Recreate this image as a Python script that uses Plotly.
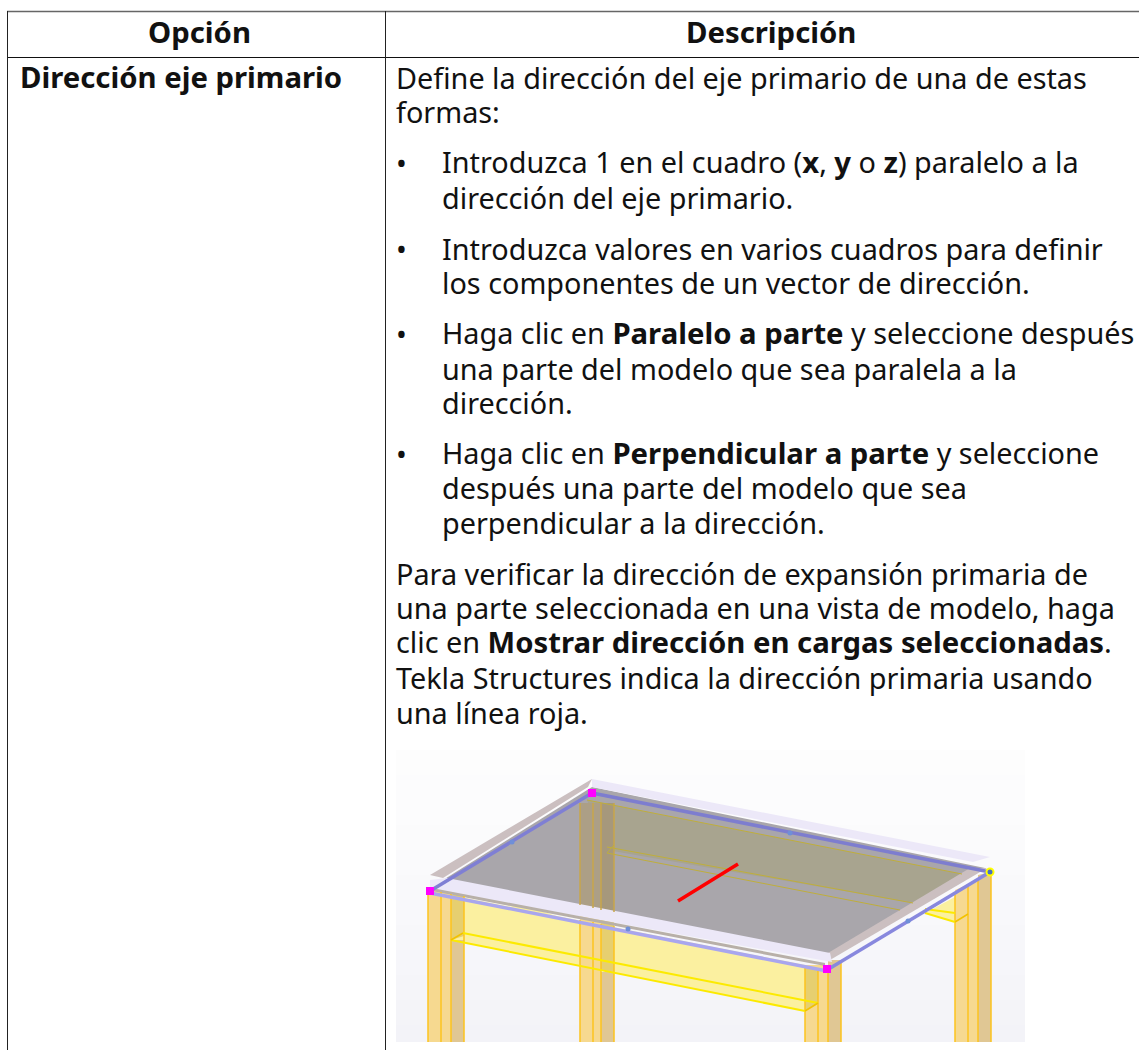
import plotly.graph_objects as go

BOLD = '<b style="font-size:29.3px">'

# ---------- table text ----------
header_labels = ["Opción", "Descripción"]
option_label = "Dirección eje primario"
plain_lines = [
    "Define la dirección del eje primario de una de estas",
    "formas:",
    "Para verificar la dirección de expansión primaria de",
    "una parte seleccionada en una vista de modelo, haga",
    f"clic en {BOLD}Mostrar dirección en cargas seleccionadas</b>.",
    "Tekla Structures indica la dirección primaria usando",
    "una línea roja.",
]
plain_baselines = [88, 122, 584, 618, 653, 688, 723]
bullet_lines = [
    f"Introduzca 1 en el cuadro ({BOLD}x</b>, {BOLD}y</b> o {BOLD}z</b>) paralelo a la",
    "dirección del eje primario.",
    "Introduzca valores en varios cuadros para definir",
    "los componentes de un vector de dirección.",
    f"Haga clic en {BOLD}Paralelo a parte</b> y seleccione después",
    "una parte del modelo que sea paralela a la",
    "dirección.",
    f"Haga clic en {BOLD}Perpendicular a parte</b> y seleccione",
    "después una parte del modelo que sea",
    "perpendicular a la dirección.",
]
bullet_baselines = [173, 208, 259, 293, 344, 379, 413, 464, 498, 533]
bullet_marks = [173, 259, 344, 464]

# ---------- illustration ----------
backdrop_rows = [750, 775, 800, 825, 850, 875, 900, 925, 950, 975, 1000, 1025, 1042]
backdrop_cols = ["#fdfdfd", "#fcfcfd", "#fcfcfd", "#fbfbfc", "#fafafc", "#f9f9fb", "#f8f8fb",
                 "#f7f7fa", "#f6f6fa", "#f5f5f9", "#f4f4f8", "#f3f3f8"]

polygons = [
    # right-hand rear beam piece
    ("#fbf0a0", [925, 955, 968, 968, 955], [913, 897, 895, 913, 922]),
    # front beam
    ("#fbf0a0", [451, 463, 818, 805], [885, 885, 1003, 1011]),
    ("#fbf0a0", [451, 805, 805, 451], [895, 965, 1011, 940]),
    # columns
    ("#f6d990", [428, 451, 451, 428], [891, 891, 1042, 1042]),
    ("#e0c794", [451, 464, 464, 451], [940, 940, 1042, 1042]),
    ("#e6cf70", [451, 464, 464, 451], [895, 895, 936, 940]),
    ("#f6d990", [580, 601, 601, 580], [915, 915, 1042, 1042]),
    ("#e0c794", [601, 614, 614, 601], [972, 972, 1042, 1042]),
    ("#e6cf70", [601, 614, 614, 601], [915, 915, 973, 970]),
    ("#f6d990", [805, 828, 828, 805], [965, 965, 1042, 1042]),
    ("#e0c794", [828, 841, 841, 828], [960, 960, 1042, 1042]),
    ("#e6cf70", [805, 818, 818, 805], [968, 968, 1003, 1011]),
    ("#f6d990", [955, 978, 978, 955], [890, 880, 1042, 1042]),
    ("#e0c794", [978, 991, 991, 978], [875, 872, 1042, 1042]),
    # slab
    ("#a9a6ab", [592, 985, 830, 435], [787, 868, 957, 885]),
    ("#a8a48f", [587, 962, 913, 607], [800, 874, 903, 850]),
    ("#ac9f86", [580, 601, 601, 580], [803, 803, 912, 905]),
    ("#a6987c", [601, 614, 614, 601], [803, 803, 914, 912]),
    # slab edge bands
    ("#cbbfc0", [430, 592, 588, 443], [875, 779, 787, 878]),
    ("#cbbfc0", [828, 970, 987, 830], [953, 868, 868, 960]),
    ("#ece8f8", [592, 990, 973, 592], [779, 857, 862, 787]),
    ("#ece8f8", [430, 447, 830, 832, 430], [880, 878, 953, 962, 889]),
    ("#b8b0a8", [432, 825, 825, 432], [888, 963, 966, 891]),
]
column_lines_x = [428, 441, 451, 464, 580, 593, 601, 614, 805, 818, 828, 841, 955, 968, 978, 991]
column_lines_top = [891, 892, 894, 896, 920, 922, 924, 926, 967, 969, 968, 962, 895, 885, 878, 873]
column_back_lines_x = [580, 593, 601, 614]
column_back_lines_top = [803, 803, 803, 803]
column_back_lines_bottom = [905, 908, 910, 912]

edge_lines = [
    ("#fcea00", 2, [451, 805], [940, 1011]),
    ("#fcea00", 2, [463, 818], [933, 1003]),
    ("#f2c200", 1.5, [451, 463], [940, 933]),
    ("#f2c200", 1.5, [805, 818], [1011, 1003]),
    ("#fcea00", 2, [925, 955], [913, 922]),
    ("#fcea00", 2, [925, 955], [909, 913]),
    ("#f2c200", 1.5, [955, 968], [922, 914]),
    ("#bfae3c", 1, [587, 962], [800, 874]),
    ("#bfae3c", 1, [607, 913], [847, 903]),
    ("#bfae3c", 1, [607, 900], [853, 910]),
    ("#bfae3c", 1, [607, 614], [853, 845]),
    ("#7f7fd4", 3.5, [592, 430], [793, 891]),
    ("#7d7dcf", 3.5, [592, 990], [793, 872]),
    ("#a9a6ee", 3.5, [430, 827], [893, 971]),
    ("#8888de", 3.5, [827, 990], [970, 872]),
    ("#ff0000", 3.5, [678, 738], [901, 864]),
]
corner_x = [592, 430, 827]
corner_y = [793, 891, 969]
handle_x = [990]
handle_y = [872]
midpoint_x = [512, 628, 790, 908]
midpoint_y = [842, 929, 833, 921]

fig = go.Figure()

for i, col in enumerate(backdrop_cols):
    fig.add_shape(type="rect", x0=396, x1=1025, y0=backdrop_rows[i], y1=backdrop_rows[i + 1],
                  fillcolor=col, line_width=0, layer="below")

for col, xs, ys in polygons:
    fig.add_trace(go.Scatter(x=xs, y=ys, fill="toself", fillcolor=col, mode="none", hoverinfo="skip"))

for x, top in zip(column_lines_x, column_lines_top):
    fig.add_trace(go.Scatter(x=[x, x], y=[top, 1042], mode="lines", hoverinfo="skip",
                             line=dict(color="#fcc31e", width=1.5)))
for x, top, bottom in zip(column_back_lines_x, column_back_lines_top, column_back_lines_bottom):
    fig.add_trace(go.Scatter(x=[x, x], y=[top, bottom], mode="lines", hoverinfo="skip",
                             line=dict(color="#c9a64a", width=1.5)))

for col, w, xs, ys in edge_lines:
    fig.add_trace(go.Scatter(x=xs, y=ys, mode="lines", hoverinfo="skip", line=dict(color=col, width=w)))

fig.add_trace(go.Scatter(x=midpoint_x, y=midpoint_y, mode="markers", hoverinfo="skip",
                         marker=dict(symbol="circle", size=5, color="#6f8fd8")))
fig.add_trace(go.Scatter(x=corner_x, y=corner_y, mode="markers", hoverinfo="skip",
                         marker=dict(symbol="square", size=8, color="#ff00ff")))
fig.add_trace(go.Scatter(x=handle_x, y=handle_y, mode="markers", hoverinfo="skip",
                         marker=dict(symbol="circle", size=7, color="#4a6fc0",
                                     line=dict(color="#ffff00", width=2))))

# ---------- table rules ----------
fig.add_shape(type="line", x0=7, x1=1139, y0=11.5, y1=11.5, line=dict(color="#666666", width=1.5))
fig.add_shape(type="line", x0=7, x1=1139, y0=57.5, y1=57.5, line=dict(color="#111111", width=1))
fig.add_shape(type="line", x0=7.5, x1=7.5, y0=11, y1=1050, line=dict(color="#222222", width=1))
fig.add_shape(type="line", x0=385.5, x1=385.5, y0=11, y1=1050, line=dict(color="#222222", width=1))

FONT = "Noto Sans"
SIZE = 28.8
INK = "#111111"
OFFSET = 11


def put(x, baseline, text, anchor="left", bold=False):
    fig.add_annotation(x=x, y=baseline - OFFSET, text=f"{BOLD}{text}</b>" if bold else text,
                       showarrow=False, xanchor=anchor, yanchor="middle", align=anchor,
                       borderpad=0, font=dict(family=FONT, size=SIZE, color=INK))


put(199, 43, header_labels[0], "center", True)
put(771, 43, header_labels[1], "center", True)
put(19, 88, option_label, bold=True)
for t, b in zip(plain_lines, plain_baselines):
    put(395, b, t)
for t, b in zip(bullet_lines, bullet_baselines):
    put(441, b, t)
for b in bullet_marks:
    put(395, b, "•")

fig.update_layout(
    width=1139, height=1050, margin=dict(l=0, r=0, t=0, b=0),
    paper_bgcolor="white", plot_bgcolor="white", showlegend=False,
    xaxis=dict(range=[0, 1139], visible=False, fixedrange=True),
    yaxis=dict(range=[1050, 0], visible=False, fixedrange=True),
)
fig.write_html("out.html", config=dict(displayModeBar=False),
               post_script="document.body.style.margin='0';document.body.style.overflow='hidden';")
